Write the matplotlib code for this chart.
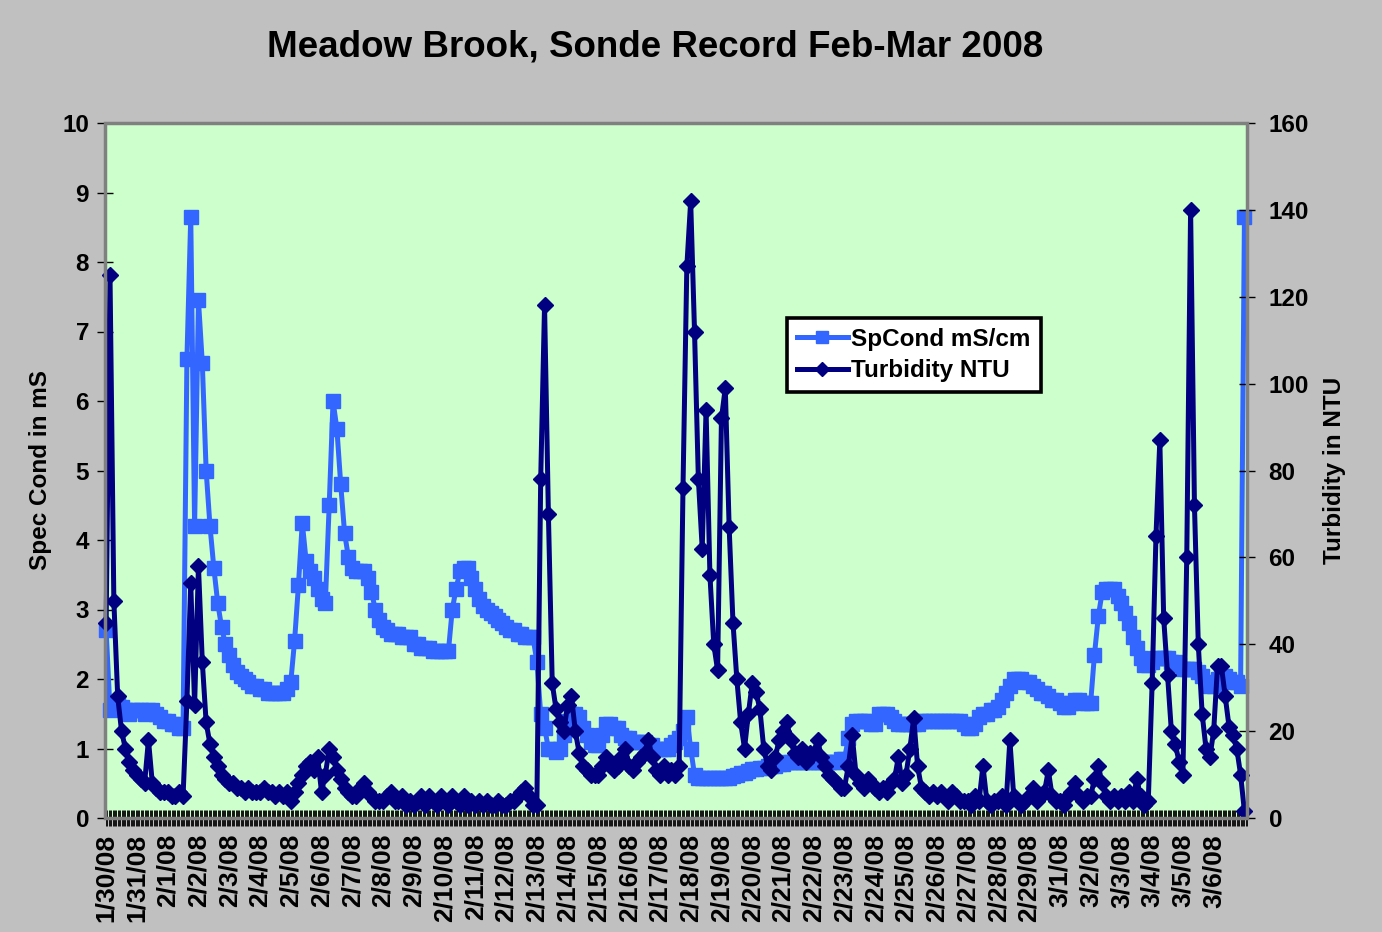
import matplotlib
matplotlib.use('Agg')
import matplotlib.pyplot as plt
import numpy as np
from matplotlib.patches import Rectangle

# ---------------- data (3-hourly readings, 8 per day) ----------------
dates = ['1/30/08', '1/31/08', '2/1/08', '2/2/08', '2/3/08', '2/4/08', '2/5/08',
         '2/6/08', '2/7/08', '2/8/08', '2/9/08', '2/10/08', '2/11/08', '2/12/08',
         '2/13/08', '2/14/08', '2/15/08', '2/16/08', '2/17/08', '2/18/08', '2/19/08',
         '2/20/08', '2/21/08', '2/22/08', '2/23/08', '2/24/08', '2/25/08', '2/26/08',
         '2/27/08', '2/28/08', '2/29/08', '3/1/08', '3/2/08', '3/3/08', '3/4/08',
         '3/5/08', '3/6/08']
samples_per_day = 8

spcond = [
    2.7, 1.55, 1.65, 1.65, 1.6, 1.55, 1.5, 1.55,      # 1/30
    1.55, 1.55, 1.5, 1.55, 1.55, 1.5, 1.45, 1.4,      # 1/31
    1.4, 1.35, 1.35, 1.3, 1.3, 6.6, 8.65, 4.2,        # 2/1
    7.45, 6.55, 5.0, 4.2, 3.6, 3.1, 2.75, 2.5,        # 2/2
    2.35, 2.2, 2.1, 2.05, 2.0, 1.95, 1.9, 1.9,        # 2/3
    1.85, 1.85, 1.8, 1.8, 1.8, 1.8, 1.8, 1.85,        # 2/4
    1.95, 2.55, 3.35, 4.25, 3.7, 3.55, 3.45, 3.3,     # 2/5
    3.15, 3.1, 4.5, 6.0, 5.6, 4.8, 4.1, 3.75,         # 2/6
    3.6, 3.55, 3.55, 3.55, 3.45, 3.25, 3.0, 2.85,     # 2/7
    2.75, 2.7, 2.65, 2.65, 2.65, 2.6, 2.6, 2.6,       # 2/8
    2.5, 2.5, 2.45, 2.45, 2.45, 2.4, 2.4, 2.4,        # 2/9
    2.4, 2.4, 3.0, 3.3, 3.55, 3.6, 3.6, 3.45,         # 2/10
    3.3, 3.15, 3.05, 3.0, 2.95, 2.9, 2.85, 2.8,       # 2/11
    2.75, 2.7, 2.7, 2.65, 2.65, 2.6, 2.6, 2.6,        # 2/12
    2.25, 1.5, 1.3, 1.0, 1.0, 0.95, 1.0, 1.2,         # 2/13
    1.4, 1.5, 1.5, 1.45, 1.3, 1.2, 1.1, 1.05,         # 2/14
    1.05, 1.2, 1.35, 1.35, 1.3, 1.3, 1.2, 1.15,       # 2/15
    1.15, 1.1, 1.1, 1.1, 1.1, 1.05, 1.05, 1.0,        # 2/16
    1.0, 1.0, 1.0, 1.05, 1.1, 1.15, 1.25, 1.45,       # 2/17
    1.0, 0.62, 0.57, 0.57, 0.57, 0.57, 0.57, 0.57,    # 2/18
    0.57, 0.57, 0.58, 0.6, 0.62, 0.65, 0.65, 0.68,    # 2/19
    0.7, 0.7, 0.72, 0.72, 0.75, 0.75, 0.75, 0.78,     # 2/20
    0.78, 0.8, 0.8, 0.8, 0.8, 0.8, 0.8, 0.8,          # 2/21
    0.8, 0.8, 0.8, 0.8, 0.8, 0.8, 0.8, 0.85,          # 2/22
    0.85, 1.15, 1.35, 1.4, 1.4, 1.4, 1.4, 1.35,       # 2/23
    1.35, 1.5, 1.5, 1.5, 1.45, 1.4, 1.35, 1.35,       # 2/24
    1.35, 1.35, 1.35, 1.35, 1.4, 1.4, 1.4, 1.4,       # 2/25
    1.4, 1.4, 1.4, 1.4, 1.4, 1.4, 1.4, 1.35,          # 2/26
    1.3, 1.3, 1.35, 1.45, 1.5, 1.5, 1.55, 1.55,       # 2/27
    1.6, 1.7, 1.8, 1.9, 2.0, 2.0, 2.0, 1.95,          # 2/28
    1.95, 1.9, 1.85, 1.8, 1.8, 1.75, 1.7, 1.7,        # 2/29
    1.65, 1.6, 1.6, 1.65, 1.7, 1.7, 1.65, 1.65,       # 3/1
    1.65, 2.35, 2.9, 3.25, 3.3, 3.3, 3.3, 3.2,        # 3/2
    3.1, 2.95, 2.8, 2.6, 2.45, 2.3, 2.2, 2.2,         # 3/3
    2.25, 2.3, 2.3, 2.3, 2.3, 2.25, 2.25, 2.2,        # 3/4
    2.15, 2.15, 2.15, 2.15, 2.1, 2.05, 1.95, 1.9,     # 3/5
    1.9, 2.0, 2.05, 2.05, 2.0, 1.95, 1.95, 1.9, 8.65, # 3/6
]

turbidity = [
    45, 125, 50, 28, 20, 16, 13, 11,      # 1/30
    10, 9, 8, 18, 8, 7, 6, 6,             # 1/31
    6, 5, 5, 6, 5, 27, 54, 26,            # 2/1
    58, 36, 22, 17, 14, 12, 10, 9,        # 2/2
    8, 8, 7, 7, 6, 7, 6, 6,               # 2/3
    6, 7, 6, 6, 5, 6, 5, 6,               # 2/4
    4, 6, 8, 10, 12, 13, 11, 14,          # 2/5
    6, 10, 16, 14, 11, 9, 7, 6,           # 2/6
    5, 5, 7, 8, 6, 5, 4, 4,               # 2/7
    4, 5, 6, 4, 4, 5, 3, 4,               # 2/8
    3, 4, 5, 3, 5, 4, 3, 5,               # 2/9
    4, 3, 5, 4, 3, 5, 3, 4,               # 2/10
    3, 4, 3, 4, 3, 3, 4, 3,               # 2/11
    3, 4, 4, 5, 6, 7, 5, 3,               # 2/12
    3, 78, 118, 70, 31, 25, 22, 20,       # 2/13
    26, 28, 20, 15, 12, 11, 10, 10,       # 2/14
    10, 12, 14, 13, 11, 12, 14, 16,       # 2/15
    12, 11, 13, 14, 15, 18, 14, 11,       # 2/16
    10, 12, 10, 11, 10, 12, 76, 127,      # 2/17
    142, 112, 78, 62, 94, 56, 40, 34,     # 2/18
    92, 99, 67, 45, 32, 22, 16, 24,       # 2/19
    31, 29, 25, 16, 12, 11, 14, 18,       # 2/20
    20, 22, 18, 15, 14, 16, 13, 15,       # 2/21
    15, 18, 14, 12, 10, 9, 8, 7,          # 2/22
    7, 12, 19, 10, 8, 7, 9, 8,            # 2/23
    7, 6, 7, 6, 8, 9, 14, 8,              # 2/24
    10, 16, 23, 12, 7, 6, 5, 6,           # 2/25
    5, 6, 5, 4, 6, 5, 4, 4,               # 2/26
    4, 3, 5, 4, 12, 4, 3, 4,              # 2/27
    4, 5, 3, 18, 5, 4, 3, 4,              # 2/28
    5, 7, 4, 5, 6, 11, 5, 4,              # 2/29
    4, 3, 5, 6, 8, 5, 4, 5,               # 3/1
    5, 9, 12, 8, 5, 4, 5, 4,              # 3/2
    5, 4, 6, 4, 9, 5, 3, 4,               # 3/3
    31, 65, 87, 46, 33, 20, 17, 13,       # 3/4
    10, 60, 140, 72, 40, 24, 16, 14,      # 3/5
    20, 35, 35, 28, 21, 19, 16, 10, 1.5,  # 3/6
]

x = np.arange(len(spcond))
day_pos = np.arange(len(dates)) * samples_per_day

# ---------------- figure ----------------
W, H = 1382, 932
fig = plt.figure(figsize=(W / 100, H / 100), dpi=100, facecolor='#C0C0C0')
FONT = 'Liberation Sans'
plt.rcParams['font.family'] = [FONT, 'DejaVu Sans']

L, R, T, B = 105, 1247, 123, 818
ax = fig.add_axes([L / W, 1 - B / H, (R - L) / W, (B - T) / H])
ax.set_facecolor('#CCFFCC')
ax2 = ax.twinx()

c_sp = '#3366FF'
c_tu = '#000080'

l1, = ax.plot(x, spcond, color=c_sp, lw=3.6, marker='s', ms=9.5,
              mec=c_sp, mfc=c_sp, clip_on=False, label='SpCond mS/cm', zorder=3)
l2, = ax2.plot(x, turbidity, color=c_tu, lw=3.6, marker='D', ms=7.8,
               mec=c_tu, mfc=c_tu, clip_on=False, label='Turbidity NTU', zorder=3)

ax.set_xlim(-0.3, len(spcond) - 1)
ax.set_ylim(0, 10)
ax2.set_ylim(0, 160)

ax.set_yticks(range(0, 11))
ax2.set_yticks(range(0, 161, 20))
ax.set_xticks(day_pos)
ax.set_xticklabels(dates, rotation=90, fontsize=19, fontweight='bold', va='top', ha='center')
ax.set_xticks(np.arange(0, len(spcond), 1 / 3), minor=True)

ax.tick_params(axis='x', which='both', direction='inout', length=11, width=0.7,
               color='#111111', pad=6)
ax.tick_params(axis='y', direction='inout', length=11, width=1.0, pad=6,
               labelsize=17.5)
ax2.tick_params(axis='y', direction='inout', length=11, width=1.0, pad=10,
                labelsize=17.5)
for lab in ax.get_yticklabels() + ax2.get_yticklabels():
    lab.set_fontweight('bold')

ax.set_ylabel('Spec Cond in mS', fontsize=17.5, fontweight='bold', labelpad=7)
ax2.set_ylabel('Turbidity in NTU', fontsize=17.5, fontweight='bold', labelpad=10)

# plot-area border (gray) and black axis lines
for a in (ax, ax2):
    for s in a.spines.values():
        s.set_visible(False)
fig.patches.append(Rectangle((L / W, 1 - B / H), (R - L) / W, (B - T) / H,
                             transform=fig.transFigure, fill=False,
                             edgecolor='#808080', lw=2.5, zorder=0.5))
for side in ('left', 'bottom'):
    ax.spines[side].set_visible(True)
    ax.spines[side].set_color('black')
    ax.spines[side].set_linewidth(1.3)
ax2.spines['right'].set_visible(True)
ax2.spines['right'].set_color('black')
ax2.spines['right'].set_linewidth(1.3)

fig.text(655 / W, 1 - 47 / H, 'Meadow Brook, Sonde Record Feb-Mar 2008',
         fontsize=26.5, fontweight='bold', ha='center', va='center')

leg = ax2.legend(handles=[l1, l2], loc='upper left',
                 bbox_to_anchor=((787 - L) / (R - L), (B - 318) / (B - T)),
                 borderaxespad=0, frameon=True, fancybox=False,
                 prop={'family': FONT, 'weight': 'bold', 'size': 17.5},
                 handlelength=2.1, handletextpad=0.15, labelspacing=0.35,
                 borderpad=0.4, markerscale=0.85)
leg.get_frame().set_edgecolor('black')
leg.get_frame().set_linewidth(2.6)
leg.get_frame().set_facecolor('white')
leg.get_frame().set_alpha(1)

fig.savefig('out.png', dpi=100, facecolor=fig.get_facecolor())
